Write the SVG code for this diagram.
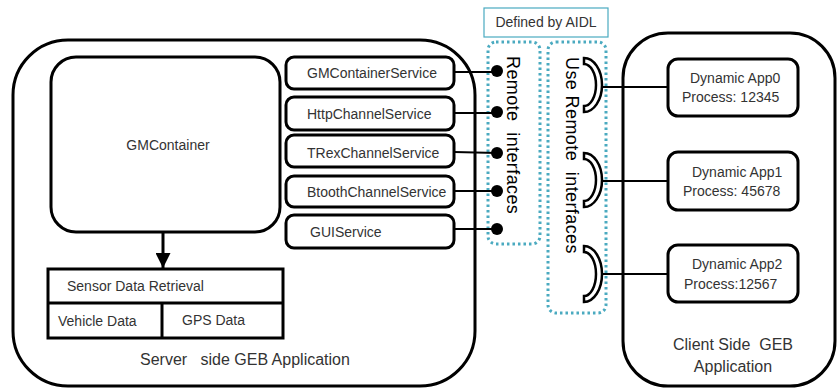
<svg xmlns="http://www.w3.org/2000/svg" width="837" height="389" viewBox="0 0 837 389">
<style>
text{white-space:pre}
.t{font-family:"Liberation Sans",Arial,sans-serif;fill:#333;font-size:14px}
.big{font-size:16px}
.box{fill:#fff;stroke:#000;stroke-width:3}
.outer{fill:none;stroke:#000;stroke-width:3}
.dot{fill:none;stroke:#4aaac0;stroke-width:3;stroke-dasharray:2.5 3}
.ln{stroke:#000;stroke-width:2;fill:none}
.sock{fill:#fff;stroke:#000;stroke-width:2.5}
.rot{font-family:"Liberation Sans",Arial,sans-serif;fill:#000;font-size:18px;letter-spacing:0.4px}
</style>
<defs>
<marker id="ah" viewBox="0 0 10 10" refX="10" refY="5" markerWidth="5" markerHeight="5" orient="auto" markerUnits="strokeWidth">
<path d="M0,0 L10,5 L0,10 z" fill="#000"/>
</marker>
</defs>
<rect width="837" height="389" fill="#fff"/>

<g id="server">
<rect class="outer" x="13" y="40" width="462" height="346" rx="55" ry="55"/>
<text class="t big" x="140" y="365" xml:space="preserve">Server   side GEB Application</text>
</g>

<g id="client">
<rect class="outer" x="623" y="33" width="212" height="353" rx="45" ry="45"/>
<text class="t big" x="733" y="350" text-anchor="middle" xml:space="preserve">Client Side  GEB</text>
<text class="t big" x="733" y="372" text-anchor="middle">Application</text>
</g>

<g id="gmcontainer">
<rect class="box" x="51" y="57" width="229" height="175" rx="25" ry="25"/>
<text class="t" x="168" y="150" text-anchor="middle">GMContainer</text>
</g>

<g id="sensor">
<rect class="box" x="48" y="269" width="235" height="69"/>
<line class="outer" x1="48" y1="303" x2="283" y2="303"/>
<line class="outer" x1="162" y1="303" x2="162" y2="338"/>
<text class="t" x="67" y="291">Sensor Data Retrieval</text>
<text class="t" x="58" y="326">Vehicle Data</text>
<text class="t" x="182" y="325">GPS Data</text>
</g>

<g id="svc-gmcontainer">
<rect class="box" x="286" y="57" width="168" height="32" rx="8"/>
<text class="t" x="307" y="78">GMContainerService</text>
</g>
<g id="svc-http">
<rect class="box" x="286" y="97" width="168" height="33" rx="8"/>
<text class="t" x="307" y="119">HttpChannelService</text>
</g>
<g id="svc-trex">
<rect class="box" x="286" y="135" width="168" height="32" rx="8"/>
<text class="t" x="307" y="158">TRexChannelService</text>
</g>
<g id="svc-btooth">
<rect class="box" x="286" y="176" width="168" height="31" rx="8"/>
<text class="t" x="307" y="197">BtoothChannelService</text>
</g>
<g id="svc-gui">
<rect class="box" x="286" y="215" width="168" height="33" rx="8"/>
<text class="t" x="310" y="237">GUIService</text>
</g>

<g id="aidl">
<rect x="484" y="8" width="124" height="29" fill="#fff" stroke="#4aaac0" stroke-width="1.2"/>
<text class="t" x="546" y="27" text-anchor="middle" font-size="13">Defined by AIDL</text>
</g>

<g id="remote-interfaces">
<rect class="dot" x="488" y="42" width="52" height="202" rx="8"/>
<text class="rot" transform="translate(507,56) rotate(90)" xml:space="preserve">Remote  interfaces</text>
</g>

<g id="use-remote-interfaces">
<rect class="dot" x="548" y="42" width="58" height="271" rx="8"/>
<text class="rot" transform="translate(566,57) rotate(90)" xml:space="preserve">Use Remote  interfaces</text>
</g>

<g id="app0">
<rect class="box" x="668" y="59" width="130" height="57" rx="10"/>
<text class="t" x="690" y="83">Dynamic App0</text>
<text class="t" x="682" y="102">Process: 12345</text>
</g>
<g id="app1">
<rect class="box" x="668" y="152" width="130" height="58" rx="10"/>
<text class="t" x="692" y="177">Dynamic App1</text>
<text class="t" x="683" y="196">Process: 45678</text>
</g>
<g id="app2">
<rect class="box" x="668" y="245" width="130" height="57" rx="10"/>
<text class="t" x="692" y="269">Dynamic App2</text>
<text class="t" x="684" y="289">Process:12567</text>
</g>

<g id="connectors">
<line x1="163" y1="232" x2="163" y2="268" stroke="#000" stroke-width="3" marker-end="url(#ah)"/>
<line class="ln" x1="454" y1="72" x2="497" y2="72"/>
<line class="ln" x1="454" y1="113" x2="497" y2="113"/>
<line class="ln" x1="454" y1="152" x2="497" y2="153"/>
<line class="ln" x1="454" y1="191" x2="497" y2="191"/>
<line class="ln" x1="454" y1="229" x2="497" y2="229"/>
<circle cx="497" cy="71" r="6" fill="#000"/>
<circle cx="497" cy="112" r="6" fill="#000"/>
<circle cx="497" cy="153" r="6" fill="#000"/>
<circle cx="497" cy="191" r="6" fill="#000"/>
<circle cx="497" cy="229" r="6" fill="#000"/>
<line class="ln" x1="602" y1="87" x2="668" y2="87"/>
<line class="ln" x1="602" y1="181" x2="668" y2="181"/>
<line class="ln" x1="602" y1="274" x2="668" y2="274"/>
<path class="sock" d="M584,58 A18,27 0 0 1 584,112 L584,106 A12,21 0 0 0 584,64 Z"/>
<path class="sock" d="M584,153 A18,27 0 0 1 584,207 L584,201 A12,21 0 0 0 584,159 Z"/>
<path class="sock" d="M584,246 A18,28 0 0 1 584,302 L584,296 A12,22 0 0 0 584,252 Z"/>
</g>
</svg>
